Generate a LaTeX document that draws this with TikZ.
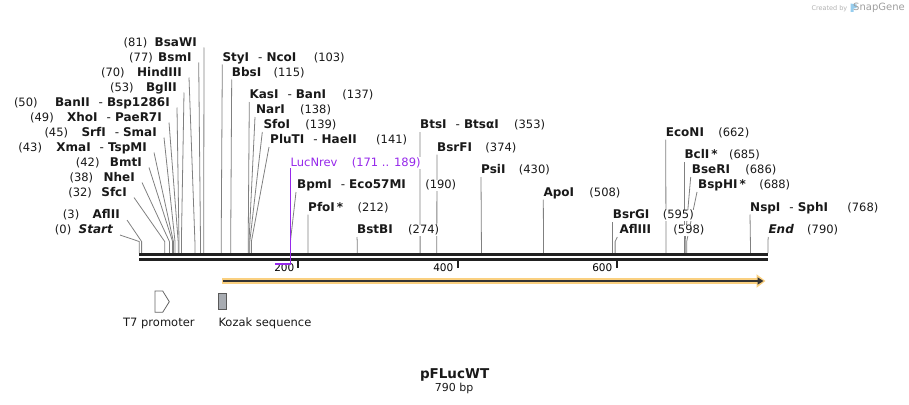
\documentclass[tikz,border=0pt]{standalone}
\usepackage{fontspec}
\setmainfont{DejaVu Sans}
\usetikzlibrary{positioning}
\usetikzlibrary{arrows.meta}
\usetikzlibrary{backgrounds}
\definecolor{sitegray}{RGB}{128,128,128}
\definecolor{primerpurple}{RGB}{150,40,235}
\definecolor{featorange}{RGB}{250,208,128}
\definecolor{kozakgray}{RGB}{168,172,178}
\definecolor{logoblue}{RGB}{150,205,238}
\newcommand{\enzsep}{\hspace{9pt}{\mdseries -}\hspace{4pt}}
\tikzset{
    double distance=2pt,
    label base/.style={
        inner sep=0pt,
        fill=white,
        text height=9pt,
        text depth=2.5pt},
    enzyme/.style={
        label base,
        text=black!90,
        font=\fontsize{12}{14}\selectfont\bfseries},
    site num/.style={
        label base,
        text=black!90,
        font=\fontsize{11.5}{14}\selectfont},
    primer label/.style={
        site num,
        text=primerpurple},
    cut line/.style={
        draw=sitegray,
        line width=0.8pt},
    backbone/.style={
        draw=black!87,
        double=white,
        line width=3pt},
    tick/.style={
        draw=black!87,
        line width=2pt},
    tick num/.style={
        inner sep=0pt,
        font=\fontsize{10.5}{12}\selectfont},
    primer/.style={
        draw=primerpurple,
        line width=1.5pt},
    feat glow/.style={
        draw=featorange,
        line width=6pt,
        -{Triangle[length=9pt,width=13pt]}},
    feat line/.style={
        draw=black!80,
        line width=2pt,
        -{Triangle[length=6pt,width=7pt]}},
    feat label/.style={
        inner sep=0pt,
        text=black!90,
        font=\fontsize{11.5}{14}\selectfont}}

\begin{document}
\begin{tikzpicture}[x=1pt,y=-1pt]
    \useasboundingbox (0,0) rectangle (909,404);

    % cut sites on the backbone
    \coordinate (bend) at (0,241.5);
    \coordinate (s0) at (139.2,253);
    \coordinate (s3) at (141.6,253);
    \coordinate (s32) at (164.7,253);
    \coordinate (s38) at (169.4,253);
    \coordinate (s42) at (172.6,253);
    \coordinate (s43) at (173.4,253);
    \coordinate (s45) at (175.0,253);
    \coordinate (s49) at (178.2,253);
    \coordinate (s50) at (179.0,253);
    \coordinate (s53) at (181.4,253);
    \coordinate (s70) at (194.9,253);
    \coordinate (s77) at (200.5,253);
    \coordinate (s81) at (203.7,253);
    \coordinate (s103) at (221.2,253);
    \coordinate (s115) at (230.7,253);
    \coordinate (s137) at (248.2,253);
    \coordinate (s138) at (249.0,253);
    \coordinate (s139) at (249.8,253);
    \coordinate (s141) at (251.4,253);
    \coordinate (s190) at (290.4,253);
    \coordinate (s212) at (307.9,253);
    \coordinate (s274) at (357.2,253);
    \coordinate (s353) at (420.1,253);
    \coordinate (s374) at (436.8,253);
    \coordinate (s430) at (481.4,253);
    \coordinate (s508) at (543.5,253);
    \coordinate (s595) at (612.7,253);
    \coordinate (s598) at (615.1,253);
    \coordinate (s662) at (666.0,253);
    \coordinate (s685) at (684.3,253);
    \coordinate (s686) at (685.1,253);
    \coordinate (s688) at (686.7,253);
    \coordinate (s768) at (750.4,253);
    \coordinate (s790) at (767.9,253);

    % backbone and ruler
    \coordinate (bbl) at (139,257);
    \coordinate (bbr) at (768,257);
    \draw[backbone] (bbl) -- (bbr);
    \coordinate (t200) at (298.4,261);
    \coordinate (t400) at (457.5,261);
    \coordinate (t600) at (616.7,261);
    \draw[tick] (t200) -- ++(0,7);
    \draw[tick] (t400) -- ++(0,7);
    \draw[tick] (t600) -- ++(0,7);
    \node[tick num, anchor=base east] (l200) at (294.5,271) {200};
    \node[tick num, anchor=base east] (l400) at (453.5,271) {400};
    \node[tick num, anchor=base east] (l600) at (612.5,271) {600};

    % enzymes left of the cluster
    \node[enzyme, anchor=base east] (bsawi) at (197,46) {BsaWI};
    \node[site num, left=7pt of bsawi] (n81) {(81)};
    \node[enzyme, anchor=base east] (bsmi) at (191.7,61) {BsmI};
    \node[site num, left=5pt of bsmi] (n77) {(77)};
    \node[enzyme, anchor=base east] (hindiii) at (182,76) {HindIII};
    \node[site num, left=12pt of hindiii] (n70) {(70)};
    \node[enzyme, anchor=base east] (bglii) at (177,91) {BglII};
    \node[site num, left=12pt of bglii] (n53) {(53)};
    \node[enzyme, anchor=base east] (banii) at (170,106) {BanII\enzsep Bsp1286I};
    \node[site num, left=17pt of banii] (n50) {(50)};
    \node[enzyme, anchor=base east] (xhoi) at (162,121) {XhoI\enzsep PaeR7I};
    \node[site num, left=13pt of xhoi] (n49) {(49)};
    \node[enzyme, anchor=base east] (srfi) at (157,136) {SrfI\enzsep SmaI};
    \node[site num, left=13pt of srfi] (n45) {(45)};
    \node[enzyme, anchor=base east] (xmai) at (147,151) {XmaI\enzsep TspMI};
    \node[site num, left=14pt of xmai] (n43) {(43)};
    \node[enzyme, anchor=base east] (bmti) at (142,166) {BmtI};
    \node[site num, left=10pt of bmti] (n42) {(42)};
    \node[enzyme, anchor=base east] (nhei) at (135,181) {NheI};
    \node[site num, left=10pt of nhei] (n38) {(38)};
    \node[enzyme, anchor=base east] (sfci) at (127,196) {SfcI};
    \node[site num, left=9pt of sfci] (n32) {(32)};
    \node[enzyme, anchor=base east] (aflii) at (120,218.5) {AflII};
    \node[site num, left=13pt of aflii] (n3) {(3)};
    \node[enzyme, anchor=base east] (start) at (113,233.5) {\itshape Start};
    \node[site num, left=7pt of start] (n0) {(0)};

    % enzymes to the right of their cut line
    \node[enzyme, anchor=base west] (styi) at (222.3,61) {StyI\enzsep NcoI};
    \node[site num, right=17pt of styi] (n103) {(103)};
    \node[enzyme, anchor=base west] (bbsi) at (231.7,76) {BbsI};
    \node[site num, right=12pt of bbsi] (n115) {(115)};
    \node[enzyme, anchor=base west] (kasi) at (249.3,98.5) {KasI\enzsep BanI};
    \node[site num, right=16pt of kasi] (n137) {(137)};
    \node[enzyme, anchor=base west] (nari) at (256,113.5) {NarI};
    \node[site num, right=15pt of nari] (n138) {(138)};
    \node[enzyme, anchor=base west] (sfoi) at (263.3,128.5) {SfoI};
    \node[site num, right=15pt of sfoi] (n139) {(139)};
    \node[enzyme, anchor=base west] (pluti) at (270,143.5) {PluTI\enzsep HaeII};
    \node[site num, right=19pt of pluti] (n141) {(141)};
    \node[enzyme, anchor=base west] (bpmi) at (297,188.5) {BpmI\enzsep Eco57MI};
    \node[site num, right=19pt of bpmi] (n190) {(190)};
    \node[enzyme, anchor=base west] (pfoi) at (308,211) {PfoI\,*};
    \node[site num, right=14pt of pfoi] (n212) {(212)};
    \node[enzyme, anchor=base west] (bstbi) at (357,233.5) {BstBI};
    \node[site num, right=15pt of bstbi] (n274) {(274)};
    \node[enzyme, anchor=base west] (btsi) at (420,128.5) {BtsI\enzsep BtsαI};
    \node[site num, right=15pt of btsi] (n353) {(353)};
    \node[enzyme, anchor=base west] (bsrfi) at (437,151) {BsrFI};
    \node[site num, right=13pt of bsrfi] (n374) {(374)};
    \node[enzyme, anchor=base west] (psii) at (481,173.5) {PsiI};
    \node[site num, right=13pt of psii] (n430) {(430)};
    \node[enzyme, anchor=base west] (apoi) at (543.3,196) {ApoI};
    \node[site num, right=15pt of apoi] (n508) {(508)};
    \node[enzyme, anchor=base west] (bsrgi) at (612.7,218.5) {BsrGI};
    \node[site num, right=13pt of bsrgi] (n595) {(595)};
    \node[enzyme, anchor=base west] (afliii) at (619.3,233.5) {AflIII};
    \node[site num, right=22pt of afliii] (n598) {(598)};
    \node[enzyme, anchor=base west] (econi) at (665.7,136) {EcoNI};
    \node[site num, right=14pt of econi] (n662) {(662)};
    \node[enzyme, anchor=base west] (bcli) at (684.3,158.5) {BclI\,*};
    \node[site num, right=11pt of bcli] (n685) {(685)};
    \node[enzyme, anchor=base west] (bseri) at (691.7,173.5) {BseRI};
    \node[site num, right=15pt of bseri] (n686) {(686)};
    \node[enzyme, anchor=base west] (bsphi) at (698,188.5) {BspHI\,*};
    \node[site num, right=13pt of bsphi] (n688) {(688)};
    \node[enzyme, anchor=base west] (nspi) at (750,211) {NspI\enzsep SphI};
    \node[site num, right=19pt of nspi] (n768) {(768)};
    \node[enzyme, anchor=base west] (finish) at (768.3,233.5) {\itshape End};
    \node[site num, right=13pt of finish] (n790) {(790)};

    \begin{scope}[on background layer]
        \draw[cut line] ([shift={(7,1.5)}]bsawi.base east) -- (s81 |- bend) -- (s81);
        \draw[cut line] ([shift={(7,1.5)}]bsmi.base east) -- (s77 |- bend) -- (s77);
        \draw[cut line] ([shift={(7,1.5)}]hindiii.base east) -- (s70 |- bend) -- (s70);
        \draw[cut line] ([shift={(7,1.5)}]bglii.base east) -- (s53 |- bend) -- (s53);
        \draw[cut line] ([shift={(7,1.5)}]banii.base east) -- (s50 |- bend) -- (s50);
        \draw[cut line] ([shift={(7,1.5)}]xhoi.base east) -- (s49 |- bend) -- (s49);
        \draw[cut line] ([shift={(7,1.5)}]srfi.base east) -- (s45 |- bend) -- (s45);
        \draw[cut line] ([shift={(7,1.5)}]xmai.base east) -- (s43 |- bend) -- (s43);
        \draw[cut line] ([shift={(7,1.5)}]bmti.base east) -- (s42 |- bend) -- (s42);
        \draw[cut line] ([shift={(7,1.5)}]nhei.base east) -- (s38 |- bend) -- (s38);
        \draw[cut line] ([shift={(7,1.5)}]sfci.base east) -- (s32 |- bend) -- (s32);
        \draw[cut line] ([shift={(7,1.5)}]aflii.base east) -- (s3 |- bend) -- (s3);
        \draw[cut line] ([shift={(7,1.5)}]start.base east) -- (s0 |- bend) -- (s0);

        \draw[cut line] ([shift={(0,3.5)}]styi.base west) -- (s103 |- bend) -- (s103);
        \draw[cut line] ([shift={(0,3.5)}]bbsi.base west) -- (s115 |- bend) -- (s115);
        \draw[cut line] ([shift={(0,3.5)}]kasi.base west) -- (s137 |- bend) -- (s137);
        \draw[cut line] ([shift={(-1,3.5)}]nari.base west) -- (s138 |- bend) -- (s138);
        \draw[cut line] ([shift={(-1,3.5)}]sfoi.base west) -- (s139 |- bend) -- (s139);
        \draw[cut line] ([shift={(-1,3.5)}]pluti.base west) -- (s141 |- bend) -- (s141);
        \draw[cut line] ([shift={(-1,3.5)}]bpmi.base west) -- (s190 |- bend) -- (s190);
        \draw[cut line] ([shift={(0,3.5)}]pfoi.base west) -- (s212 |- bend) -- (s212);
        \draw[cut line] ([shift={(0,3.5)}]bstbi.base west) -- (s274 |- bend) -- (s274);
        \draw[cut line] ([shift={(0,3.5)}]btsi.base west) -- (s353 |- bend) -- (s353);
        \draw[cut line] ([shift={(0,3.5)}]bsrfi.base west) -- (s374 |- bend) -- (s374);
        \draw[cut line] ([shift={(0,3.5)}]psii.base west) -- (s430 |- bend) -- (s430);
        \draw[cut line] ([shift={(0,3.5)}]apoi.base west) -- (s508 |- bend) -- (s508);
        \draw[cut line] ([shift={(0,3.5)}]bsrgi.base west) -- (s595 |- bend) -- (s595);
        \draw[cut line] ([shift={(-2,3.5)}]afliii.base west) -- (s598 |- bend) -- (s598);
        \draw[cut line] ([shift={(0,3.5)}]econi.base west) -- (s662 |- bend) -- (s662);
        \draw[cut line] ([shift={(0,3.5)}]bcli.base west) -- (s685 |- bend) -- (s685);
        \draw[cut line] ([shift={(-1,3.5)}]bseri.base west) -- (s686 |- bend) -- (s686);
        \draw[cut line] ([shift={(-1,3.5)}]bsphi.base west) -- (s688 |- bend) -- (s688);
        \draw[cut line] ([shift={(0,3.5)}]nspi.base west) -- (s768 |- bend) -- (s768);
        \draw[cut line] ([shift={(0,3.5)}]finish.base west) -- (s790 |- bend) -- (s790);
    \end{scope}

    % primer LucNrev
    \coordinate (p171) at (275.3,264);
    \coordinate (p189) at (290.5,264);
    \node[primer label, anchor=base west] (lucnrev) at (290.5,166) {LucNrev};
    \node[primer label, right=14pt of lucnrev] (lucpos) {(171 .. 189)};
    \draw[primer] ([shift={(0,2)}]lucnrev.base west) -- (p189) -- (p171);

    % luciferase feature
    \coordinate (lucstart) at (222,281);
    \coordinate (lucend) at (765.5,281);
    \coordinate (lucend2) at (763.5,281);
    \draw[feat glow] (lucstart) -- (lucend);
    \draw[feat line] ([xshift=1pt]lucstart) -- (lucend2);

    % features below the map
    \draw[draw=black!60, fill=white, line width=0.8pt]
        (155,291) -- (162.7,291) -- (169.3,301.7) -- (162.7,312.3) -- (155,312.3) -- cycle;
    \node[feat label, anchor=base west] (t7) at (123,326) {T7 promoter};
    \node[draw=black!65, fill=kozakgray, line width=0.8pt, inner sep=0pt,
        minimum width=8.4pt, minimum height=16pt] (kozak) at (222.5,301.3) {};
    \node[feat label, anchor=base west] (kozaklab) at (218.3,326) {Kozak sequence};

    % title
    \node[inner sep=0pt, anchor=base, font=\fontsize{13.5}{16}\selectfont\bfseries,
        text=black!90] (title) at (454.6,378.3) {pFLucWT};
    \node[inner sep=0pt, anchor=base, font=\fontsize{11}{13}\selectfont,
        text=black!90] (size) at (454.2,391) {790 bp};

    % credit
    \node[inner sep=0pt, anchor=base east, font=\fontsize{6.5}{8}\selectfont,
        text=black!30] (credit) at (847.5,10.5) {Created by};
    \fill[logoblue] (850.5,3.5) -- (856.5,4.5) -- (856.5,8) -- (853.5,8.5) -- (853.5,12) -- (850.5,12) -- cycle;
    \node[inner sep=0pt, anchor=base west, font=\fontsize{10}{12}\selectfont,
        text=black!38] (brand) at (853,10.5) {SnapGene};
\end{tikzpicture}
\end{document}
